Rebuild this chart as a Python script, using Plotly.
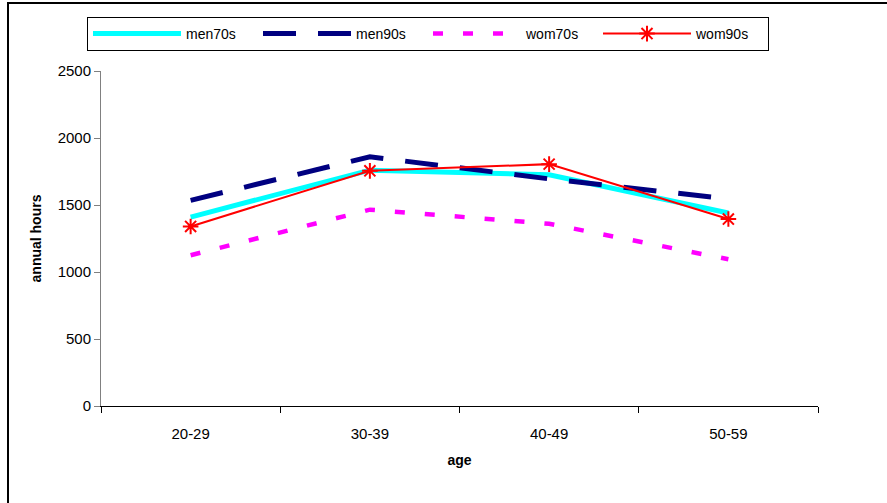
import plotly.graph_objects as go

ages = ["20-29", "30-39", "40-49", "50-59"]
men70s = [1410, 1760, 1725, 1440]
men90s = [1535, 1860, 1695, 1545]
wom70s = [1125, 1465, 1360, 1095]
wom90s = [1340, 1755, 1805, 1395]

W, H = 887, 503
L, R, T, B = 101, 69, 71, 97
pw, ph = W - L - R, H - T - B

font = "Liberation Sans, Arial, sans-serif"

fig = go.Figure()
fig.add_trace(go.Scatter(x=ages, y=men70s, name="men70s", mode="lines",
                         line=dict(color="#00FFFF", width=5)))
fig.add_trace(go.Scatter(x=ages, y=men90s, name="men90s", mode="lines",
                         line=dict(color="#000080", width=5, dash="33px,22px")))
fig.add_trace(go.Scatter(x=ages, y=wom70s, name="wom70s", mode="lines",
                         line=dict(color="#FF00FF", width=4.5, dash="10px,20px")))
fig.add_trace(go.Scatter(x=ages, y=wom90s, name="wom90s", mode="lines+markers",
                         line=dict(color="#FF0000", width=2),
                         marker=dict(symbol="asterisk-open", size=13,
                                     line=dict(color="#FF0000", width=2))))

# outer chart border (top and left visible)
fig.add_shape(type="rect", xref="paper", yref="paper",
              x0=(8 - L) / pw, x1=(W + 20 - L) / pw,
              y0=-(B + 20) / ph, y1=1 + (T - 3) / ph,
              line=dict(color="black", width=2), layer="below")

fig.update_layout(
    width=W, height=H,
    margin=dict(l=L, r=R, t=T, b=B),
    paper_bgcolor="white", plot_bgcolor="white",
    font=dict(family=font, size=14, color="black"),
    showlegend=True,
    legend=dict(orientation="h", x=(87 - L) / pw, y=1 + (71 - 17) / ph,
                xanchor="left", yanchor="top",
                bordercolor="black", borderwidth=1, bgcolor="white",
                font=dict(family=font, size=14), entrywidth=67,
                itemwidth=88, traceorder="normal"),
    xaxis=dict(range=[-0.5, 3.5], showline=True, linecolor="black", linewidth=1,
               ticks="outside", ticklen=6, tickcolor="black", tickson="boundaries",
               showgrid=False, zeroline=False, ticklabelstandoff=14,
               tickfont=dict(family=font, size=15),
               title=dict(text="<b>age</b>", font=dict(family=font, size=14), standoff=14)),
    yaxis=dict(range=[0, 2500], dtick=500, showline=True, linecolor="#808080", linewidth=1,
               ticks="outside", ticklen=6, tickcolor="#808080",
               showgrid=False, zeroline=False,
               tickfont=dict(family=font, size=15),
               title=dict(text="<b>annual hours</b>", font=dict(family=font, size=14), standoff=12)),
)

fig.write_html("out.html")
